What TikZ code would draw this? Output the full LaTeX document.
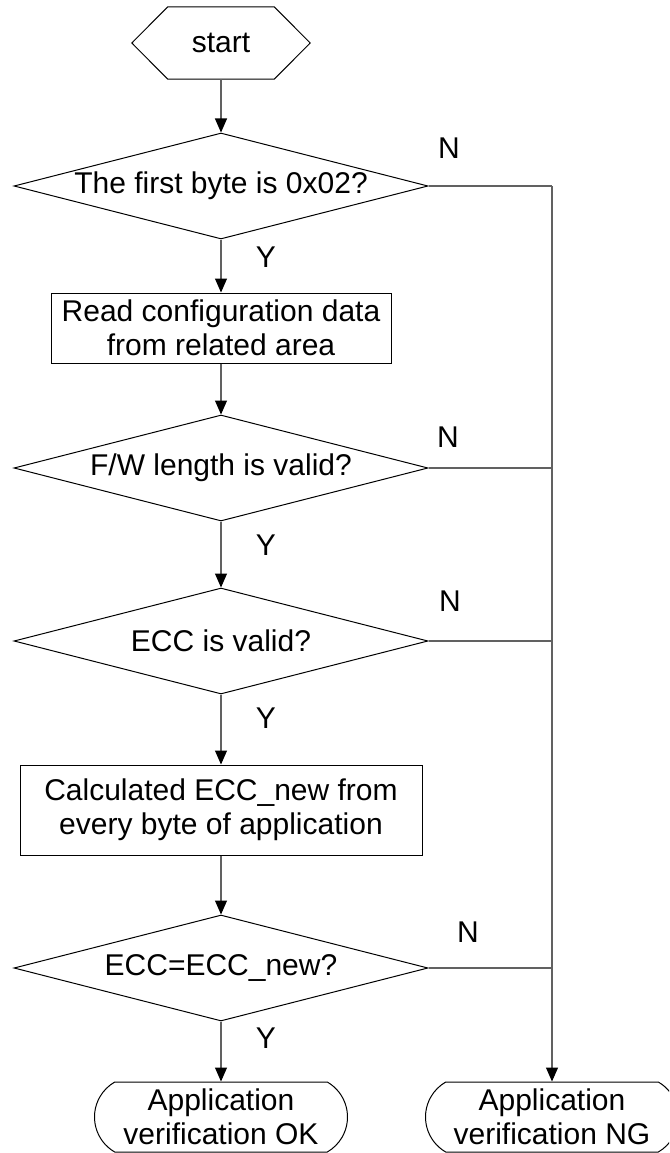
\documentclass[tikz,border=0pt]{standalone}
\usepackage{fontspec}
\setmainfont{Liberation Sans}
\usetikzlibrary{shapes.geometric,shapes.misc,arrows.meta}
\begin{document}
\begin{tikzpicture}[x=1pt,y=-1pt,
  font=\fontsize{30}{34}\selectfont,
  shape line/.style={draw=black,line width=1pt},
  decision/.style={shape line,diamond,aspect=3.9,minimum width=414pt,minimum height=106pt,inner sep=0pt},
  process/.style={shape line,rectangle,inner sep=0pt,align=center},
  terminal/.style={shape line,rounded rectangle,rounded rectangle arc length=120,
    minimum width=253pt,minimum height=70pt,inner sep=0pt,align=center},
  link/.style={draw=black!62,line width=1.1pt},
  flow/.style={link,-{Triangle[length=14pt,width=12pt,black]}},
  tag/.style={inner sep=0pt}]

\useasboundingbox (0,0) rectangle (669,1153);
\clip (0,0) rectangle (669,1153);

% start: hexagon drawn around an invisible box
\node[minimum width=178pt,minimum height=72pt,inner sep=0pt] (start) at (221,43) {start};
\draw[shape line] (start.west) -- ([xshift=36pt]start.north west)
  -- ([xshift=-36pt]start.north east) -- (start.east)
  -- ([xshift=-36pt]start.south east) -- ([xshift=36pt]start.south west) -- cycle;

% main column
\node[decision] (d1) at (221,186) {The first byte is 0x02?};
\node[process,minimum width=340pt,minimum height=70pt] (p1) at (221,328)
  {Read configuration data\\from related area};
\node[decision] (d2) at (221,468) {F/W length is valid?};
\node[decision] (d3) at (221,641) {ECC is valid?};
\node[process,minimum width=402pt,minimum height=90pt] (p2) at (221,810)
  {Calculated ECC\_new from\\every byte of application};
\node[decision] (d4) at (221,968) {ECC=ECC\_new?};
\node[terminal] (ok) at (221,1117) {Application\\verification OK};
\node[terminal] (ng) at (552,1117) {Application\\verification NG};

% yes path
\draw[flow] (start.south) -- (d1.north);
\draw[flow] (d1.south) -- (p1.north);
\draw[flow] (p1.south) -- (d2.north);
\draw[flow] (d2.south) -- (d3.north);
\draw[flow] (d3.south) -- (p2.north);
\draw[flow] (p2.south) -- (d4.north);
\draw[flow] (d4.south) -- (ok.north);

% no path: every decision joins the right-hand rail
\coordinate (r1) at (d1.east -| ng.north);
\coordinate (r2) at (d2.east -| ng.north);
\coordinate (r3) at (d3.east -| ng.north);
\coordinate (r4) at (d4.east -| ng.north);
\draw[link] (d1.east) -- (r1);
\draw[link] (d2.east) -- (r2);
\draw[link] (d3.east) -- (r3);
\draw[link] (d4.east) -- (r4);
\draw[flow] (r1) -- (ng.north);

% branch labels
\node[tag] (n1) at (449,148) {N};
\node[tag] (n2) at (448,437) {N};
\node[tag] (n3) at (450,601) {N};
\node[tag] (n4) at (468,932) {N};
\node[tag] (y1) at (266,257) {Y};
\node[tag] (y2) at (266,545) {Y};
\node[tag] (y3) at (266,718) {Y};
\node[tag] (y4) at (266,1038) {Y};
\end{tikzpicture}
\end{document}
